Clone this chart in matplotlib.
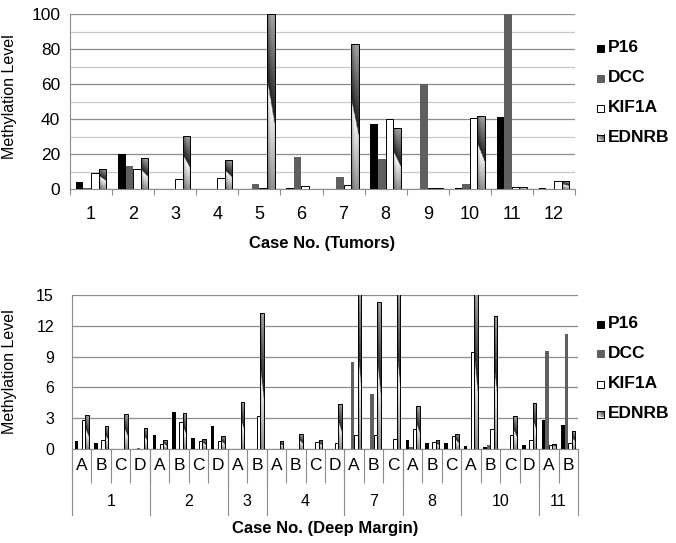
import numpy as np
import matplotlib
matplotlib.use('Agg')
import matplotlib.pyplot as plt
from matplotlib.patches import Rectangle

plt.rcParams['font.family'] = ['Liberation Sans', 'DejaVu Sans']

# ---- data: tumors ----
tumor_cases = ['1', '2', '3', '4', '5', '6', '7', '8', '9', '10', '11', '12']
p16_tumor = [3.8, 20, 0, 0, 0, 0.3, 0, 37, 0, 0.3, 41, 0.3]
dcc_tumor = [0.3, 13.3, 0, 0, 3, 18.5, 6.7, 17, 60, 3, 100, 0]
kif1a_tumor = [9, 11.2, 5.7, 6.3, 0.3, 1.7, 2.1, 39.8, 0.3, 40.6, 1.2, 4.8]
ednrb_tumor = [11.6, 17.5, 30.3, 16.6, 100, 0, 82.7, 34.7, 0.3, 41.9, 1.2, 4.4]

# ---- data: deep margin ----
margin_groups = ['1', '2', '3', '4', '7', '8', '10', '11']
margin_group_sizes = [4, 4, 2, 4, 3, 3, 4, 2]
margin_subs = ['A', 'B', 'C', 'D', 'A', 'B', 'C', 'D', 'A', 'B', 'A', 'B', 'C', 'D',
               'A', 'B', 'C', 'A', 'B', 'C', 'A', 'B', 'C', 'D', 'A', 'B']
p16_margin = [0.8, 0.55, 0, 0, 1.4, 3.6, 1.1, 2.2, 0, 0, 0, 0, 0, 0,
              0, 0, 0, 0.9, 0.55, 0.55, 0.3, 0.2, 0, 0.4, 2.8, 2.35]
dcc_margin = [0, 0, 0, 0.05, 0, 0, 0, 0, 0, 0, 0, 0, 0, 0,
              8.5, 5.4, 0, 0.15, 0, 0, 0, 0.4, 0, 0, 9.55, 11.2]
kif1a_margin = [2.8, 0.9, 0, 0, 0.5, 2.6, 0.8, 0.8, 0, 3.2, 0, 0, 0.65, 0.55,
                1.4, 1.35, 0.95, 1.95, 0.65, 1.25, 9.45, 1.9, 1.4, 0.9, 0.4, 0.55]
ednrb_margin = [3.3, 2.2, 3.4, 2.0, 0.85, 3.5, 1.0, 1.25, 4.55, 13.2, 0.75, 1.45, 0.85, 4.4,
                20, 14.35, 18, 4.15, 0.85, 1.5, 17, 12.95, 3.2, 4.5, 0.5, 1.75]

genes = ['P16', 'DCC', 'KIF1A', 'EDNRB']
DCC_GRAY = '#5f5f5f'

W, H = 676, 543


def fx(px):
    return px / W


def fy(py):
    return 1 - py / H


# diagonal "metallic" fill used by Excel for EDNRB
yy, xx = np.mgrid[0:1:80j, 0:1:16j]
s = yy + 0.25 * (xx - 0.5)
grad = np.where(s < 0.5, 0.55 + 0.45 * (s / 0.5), 0.12 + 0.5 * ((s - 0.5) / 0.5))
grad = np.clip(grad * (0.82 + 0.18 * np.sin(np.pi * xx)), 0, 1)


def draw_bars(ax, values_list, ymax, w=0.18, lw=0.7):
    n = len(values_list[0])
    x = np.arange(n)
    styles = [dict(color='black'),
              dict(color=DCC_GRAY),
              dict(facecolor='white', edgecolor='black', linewidth=lw),
              dict(facecolor='none', edgecolor='black', linewidth=lw)]
    for k, vals in enumerate(values_list):
        vals = np.asarray(vals, float)
        keep = vals > 0
        bars = ax.bar(x[keep] + (k - 1.5) * w, vals[keep], w, zorder=3, **styles[k])
        if k == 3:
            for r in bars:
                top = min(r.get_height(), ymax)
                im = ax.imshow(grad, extent=(r.get_x(), r.get_x() + r.get_width(), 0, top),
                               origin='lower', aspect='auto', cmap='gray', vmin=0, vmax=1,
                               interpolation='bilinear', zorder=2.9)
                im.set_clip_path(r)


def draw_legend(fig, ycenters, x_sq=597, x_txt=608, size=7):
    gy, gx = np.mgrid[0:1:10j, 0:1:10j]
    icon = np.clip(0.95 - 0.75 * (gx + gy) / 2, 0, 1)
    for gene, yc in zip(genes, ycenters):
        if gene == 'EDNRB':
            iax = fig.add_axes([fx(x_sq), fy(yc + size / 2), size / W, size / H])
            iax.imshow(icon, origin='lower', cmap='gray', vmin=0, vmax=1, aspect='auto')
            iax.set_xticks([])
            iax.set_yticks([])
            for sp in iax.spines.values():
                sp.set_linewidth(0.7)
        else:
            fc = {'P16': 'black', 'DCC': DCC_GRAY, 'KIF1A': 'white'}[gene]
            fig.patches.append(Rectangle((fx(x_sq), fy(yc + size / 2)), size / W, size / H,
                                         facecolor=fc, edgecolor='black' if gene != 'DCC' else DCC_GRAY,
                                         linewidth=0.7, transform=fig.transFigure))
        fig.text(fx(x_txt), fy(yc), gene, fontsize=12.5, fontweight='bold', va='center', ha='left')


fig = plt.figure(figsize=(W / 100, H / 100), dpi=100)

# ================= top: tumors =================
ax1 = fig.add_axes([fx(70), fy(189), (575 - 70) / W, (189 - 14) / H])
draw_bars(ax1, [p16_tumor, dcc_tumor, kif1a_tumor, ednrb_tumor], 100)
ax1.set_xlim(-0.5, len(tumor_cases) - 0.5)
ax1.set_ylim(0, 100)
ax1.set_yticks(np.arange(0, 101, 20))
ax1.set_yticks(np.arange(10, 100, 20), minor=True)
ax1.yaxis.grid(True, which='major', color='#8c8c8c', linewidth=0.9)
ax1.yaxis.grid(True, which='minor', color='#c8c8c8', linewidth=0.9)
ax1.set_xticks(np.arange(-0.5, len(tumor_cases), 1))
ax1.set_xticklabels([])
ax1.set_xticks(np.arange(len(tumor_cases)), tumor_cases, minor=True)
ax1.tick_params(axis='x', which='major', length=4, color='#8c8c8c', direction='out')
ax1.tick_params(axis='x', which='minor', length=0, pad=12, labelsize=13)
ax1.tick_params(axis='y', which='both', length=0, pad=7, labelsize=12.5)
for side in ['top', 'right']:
    ax1.spines[side].set_visible(False)
for side in ['left', 'bottom']:
    ax1.spines[side].set_color('#8c8c8c')
ax1.set_ylabel('Methylation Level', fontsize=11.5)
ax1.yaxis.set_label_coords(-0.105, 0.53)
ax1.set_xlabel('Case No. (Tumors)', fontsize=12, fontweight='bold')
ax1.xaxis.set_label_coords(0.5, -0.309)
ax1.xaxis.label.set_va('center')
ax1.set_axisbelow(True)

# ================= bottom: deep margin =================
ax2 = fig.add_axes([fx(72), fy(449), (578 - 72) / W, (449 - 295) / H])
draw_bars(ax2, [p16_margin, dcc_margin, kif1a_margin, ednrb_margin], 15)
n2 = len(margin_subs)
ax2.set_xlim(-0.5, n2 - 0.5)
ax2.set_ylim(0, 15)
ax2.set_yticks(np.arange(0, 16, 3))
ax2.yaxis.grid(True, color='#8c8c8c', linewidth=0.9)
ax2.set_xticks(np.arange(-0.5, n2, 1))
ax2.set_xticklabels([])
ax2.set_xticks(np.arange(n2), margin_subs, minor=True)
ax2.tick_params(axis='x', which='major', length=24.5, color='#8c8c8c', width=0.8, direction='out')
ax2.tick_params(axis='x', which='minor', length=0, pad=6.5, labelsize=12.5)
ax2.tick_params(axis='y', which='both', length=0, pad=13, labelsize=11.5)
for side in ['top', 'right']:
    ax2.spines[side].set_visible(False)
for side in ['left', 'bottom']:
    ax2.spines[side].set_color('#8c8c8c')

# group row of the category table
trans = ax2.get_xaxis_transform()
bounds = np.concatenate([[0], np.cumsum(margin_group_sizes)]) - 0.5
for b in bounds:
    ax2.plot([b, b], [0, -66 / 154], color='#8c8c8c', linewidth=0.8, transform=trans, clip_on=False)
for name, lo, hi in zip(margin_groups, bounds[:-1], bounds[1:]):
    ax2.text((lo + hi) / 2, -53 / 154, name, transform=trans, ha='center', va='center', fontsize=11.5)

ax2.set_ylabel('Methylation Level', fontsize=11.5)
ax2.yaxis.set_label_coords(-0.109, 0.5)
ax2.set_xlabel('Case No. (Deep Margin)', fontsize=12, fontweight='bold')
ax2.xaxis.set_label_coords(0.5, -79 / 154)
ax2.xaxis.label.set_va('center')
ax2.set_axisbelow(True)

draw_legend(fig, [48, 78, 108, 138])
draw_legend(fig, [324, 353, 384, 414])

fig.savefig('out.png', dpi=100, facecolor='white')
